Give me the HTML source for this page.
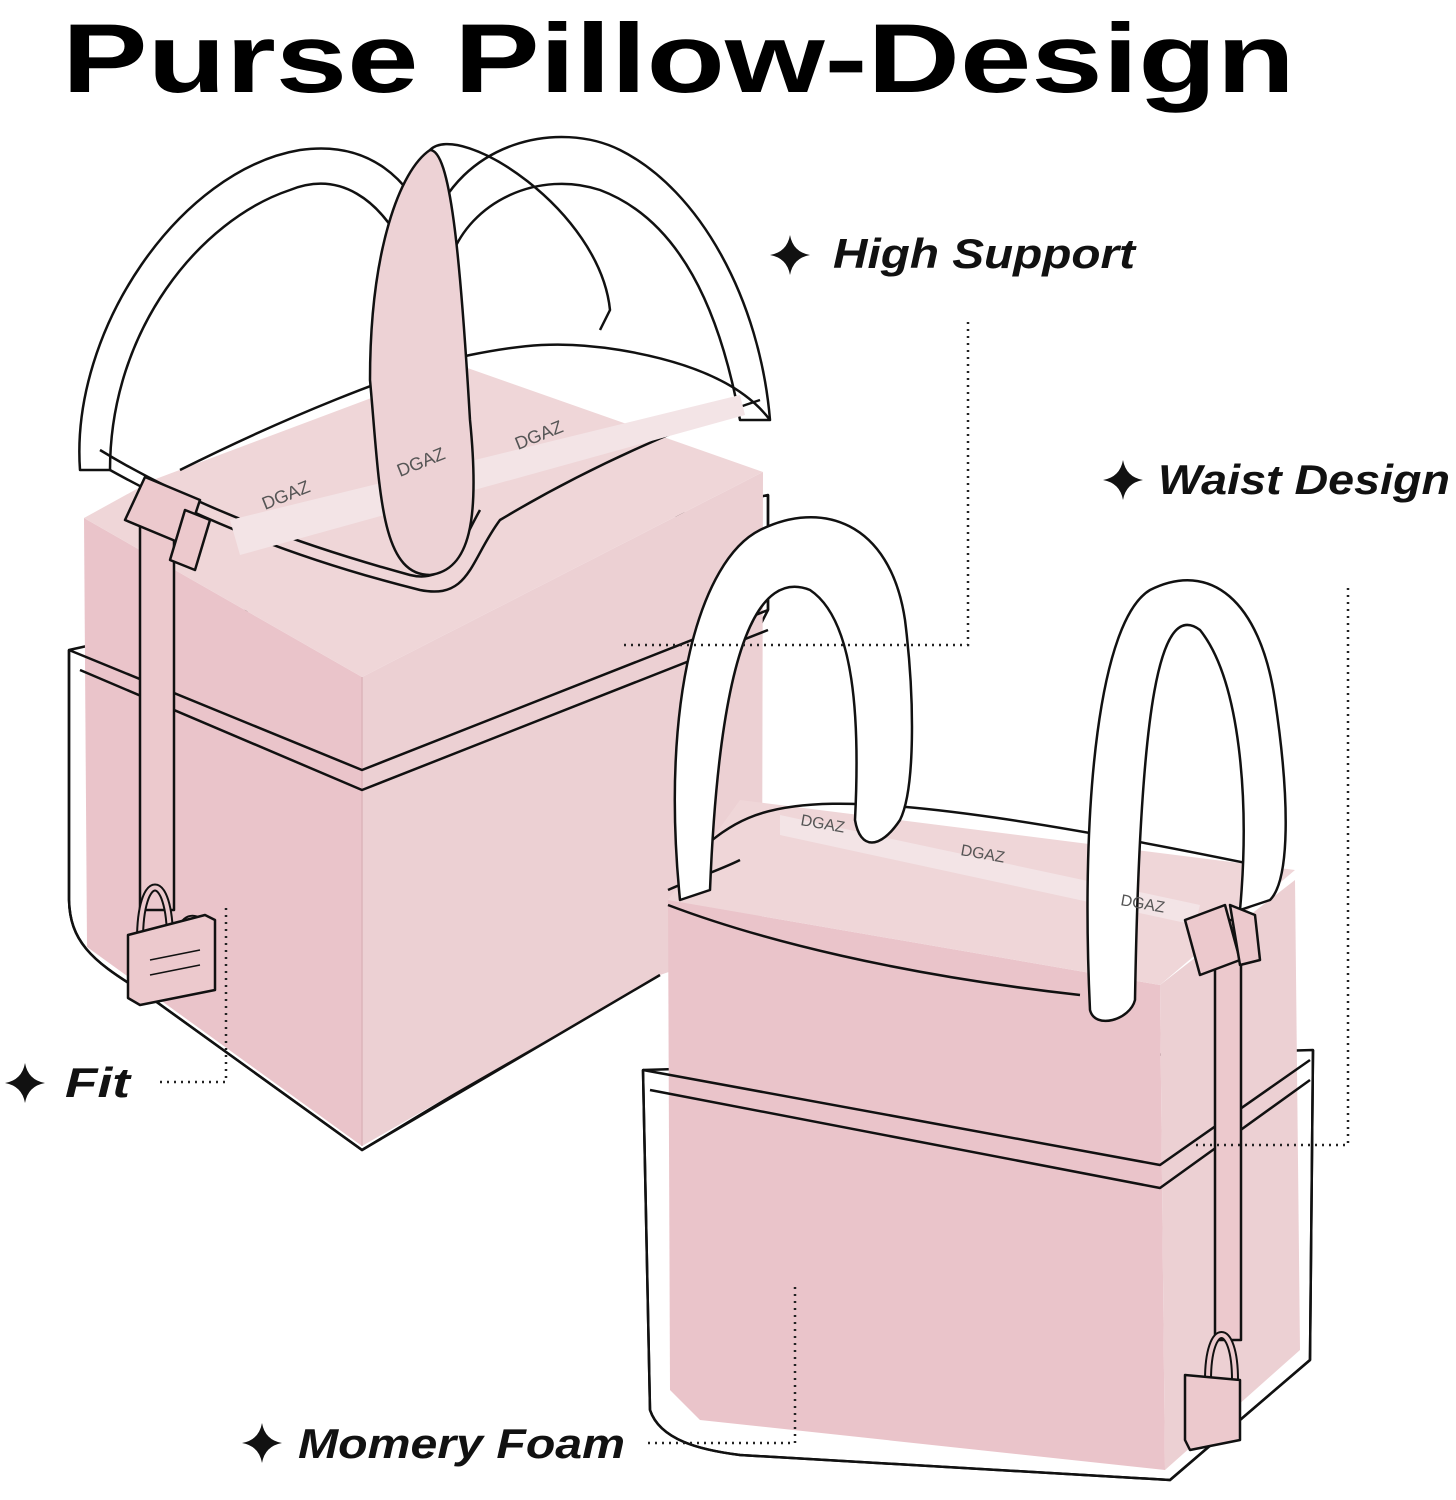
<!DOCTYPE html>
<html><head><meta charset="utf-8"><style>
html,body{margin:0;padding:0;background:#fff}
svg{display:block}
</style></head><body>
<svg width="1456" height="1500" viewBox="0 0 1456 1500" xmlns="http://www.w3.org/2000/svg" font-family="Liberation Sans, sans-serif">
<text x="62" y="92" font-size="98" font-weight="bold" textLength="1233" lengthAdjust="spacingAndGlyphs">Purse Pillow-Design</text>

<!-- LEFT BAG -->
<g stroke="#111" stroke-width="2.5" stroke-linejoin="round">
 <path d="M80 470 C70 330 180 170 300 150 C370 140 410 180 430 230 L405 250 C380 200 340 170 290 190 C200 220 110 330 110 470 Z" fill="#fff"/>
 <path d="M430 230 C460 140 560 120 620 150 C700 190 760 300 770 420 L740 420 C720 310 680 220 600 190 C540 170 470 200 450 260 Z" fill="#fff"/>
 <path d="M69 650 L69 900 C70 940 90 960 140 990 L362 1150 L660 970 L660 820 L768 610 L768 495 Z" fill="#fff"/>
 <path d="M84 518 L362 677 L362 1146 L87 947 Z" fill="#eac4ca" stroke="none"/>
 <path d="M362 677 L763 472 L762 940 L660 975 L362 1146 Z" fill="#ecd0d3" stroke="none"/>
 <path d="M84 518 L153 480 L459 365 L763 472 L362 677 Z" fill="#efd6d8" stroke="none"/>
 <line x1="362" y1="677" x2="362" y2="1146" stroke="#dcb4b9" stroke-width="1.5"/>
 <path d="M69 650 L362 770 L768 610" fill="none"/>
 <path d="M80 670 L362 790 L768 630" fill="none"/>
 <path d="M69 650 L69 900 C70 940 90 960 140 990 L362 1150 L660 975" fill="none"/>
 <path d="M768 610 L768 495" fill="none"/>
 <path d="M110 470 C200 520 300 560 420 590 C470 600 470 560 500 520 C600 460 700 420 760 400" fill="none"/>
 <path d="M100 450 C190 505 300 545 410 575 C450 585 460 545 480 510" fill="none"/>
 <path d="M180 470 C280 420 400 370 470 355 C520 345 560 340 620 350 C680 360 740 380 770 420" fill="none"/>
 <path d="M230 520 L740 395 L745 415 L240 555 Z" fill="#f3e4e6" stroke="none"/>
 <path d="M370 380 C370 250 400 170 430 150 C450 150 460 250 470 420 C480 520 470 570 430 575 C380 575 380 490 370 380 Z" fill="#edd2d5"/>
 <path d="M430 150 C460 120 600 210 610 310 L600 330" fill="none"/>
 <rect x="140" y="490" width="34" height="420" fill="#ecc9cd"/>
 <path d="M125 520 L145 477 L200 500 L185 545 Z" fill="#ecc9cd"/>
 <path d="M185 510 L210 520 L195 570 L170 560 Z" fill="#ecc9cd"/>
 <path d="M140 940 C140 870 170 870 170 940" fill="none" stroke-width="8"/>
 <path d="M140 940 C140 870 170 870 170 940" fill="none" stroke="#ecc9cd" stroke-width="4"/>
 <path d="M175 960 C175 905 210 905 210 960" fill="none" stroke-width="8"/>
 <path d="M175 960 C175 905 210 905 210 960" fill="none" stroke="#ecc9cd" stroke-width="4"/>
 <path d="M128 935 L205 915 L215 920 L215 990 L140 1005 L128 998 Z" fill="#ecc9cd"/>
 <path d="M150 960 L200 950 M150 975 L200 965" fill="none" stroke-width="1.5"/>
</g>
<g font-family="Liberation Sans, sans-serif" font-size="18" fill="#555">
 <text transform="translate(265 510) rotate(-22)">DGAZ</text>
 <text transform="translate(400 477) rotate(-22)">DGAZ</text>
 <text transform="translate(518 450) rotate(-22)">DGAZ</text>
</g>

<!-- RIGHT BAG -->
<g stroke="#111" stroke-width="2.5" stroke-linejoin="round">
 <path d="M643 1070 L650 1410 C660 1440 700 1450 740 1455 L1170 1480 L1310 1360 L1313 1050 Z" fill="#fff"/>
 <path d="M668 900 L1160 985 L1165 1470 L700 1420 L670 1390 Z" fill="#eac4ca" stroke="none"/>
 <path d="M1160 985 L1295 880 L1300 1350 L1165 1470 Z" fill="#ecd0d3" stroke="none"/>
 <path d="M668 900 L740 800 L1295 870 L1160 985 Z" fill="#efd6d8" stroke="none"/>
 <path d="M780 815 L1200 905 L1195 925 L780 835 Z" fill="#f3e4e6" stroke="none"/>
 <path d="M643 1070 L1160 1165 L1310 1060 M650 1090 L1160 1188 L1310 1080" fill="none"/>
 <path d="M643 1070 L650 1410 C660 1440 700 1450 740 1455 L1170 1480 L1310 1360 L1313 1050" fill="none"/>
 <path d="M668 890 C690 880 720 870 740 860 M668 905 C760 940 900 975 1080 995" fill="none"/>
 <path d="M700 850 C760 800 800 770 1280 870" fill="none"/>
 <path d="M680 900 C660 700 700 560 760 530 C820 500 890 520 905 620 C915 700 915 790 900 820 C880 850 860 850 855 820 C860 720 855 620 810 590 C760 570 720 640 710 890 Z" fill="#fff"/>
 <path d="M1090 1010 C1080 800 1100 620 1150 590 C1210 560 1260 600 1275 700 C1290 800 1290 880 1270 900 L1240 910 C1250 800 1240 680 1200 630 C1160 600 1140 700 1135 1000 C1130 1020 1095 1030 1090 1010 Z" fill="#fff"/>
 <rect x="1215" y="920" width="26" height="420" fill="#ecc9cd"/>
 <path d="M1185 920 L1225 905 L1240 960 L1200 975 Z" fill="#ecc9cd"/>
 <path d="M1230 905 L1255 915 L1260 960 L1240 965 Z" fill="#ecc9cd"/>
 <path d="M1208 1380 C1208 1320 1235 1320 1235 1380" fill="none" stroke-width="8"/>
 <path d="M1208 1380 C1208 1320 1235 1320 1235 1380" fill="none" stroke="#ecc9cd" stroke-width="4"/>
 <path d="M1185 1375 L1240 1380 L1240 1440 L1190 1450 L1185 1440 Z" fill="#ecc9cd"/>
</g>
<g font-family="Liberation Sans, sans-serif" font-size="16" fill="#555">
 <text transform="translate(800 825) rotate(10)">DGAZ</text>
 <text transform="translate(960 855) rotate(10)">DGAZ</text>
 <text transform="translate(1120 905) rotate(10)">DGAZ</text>
</g>

<g stroke="#222" stroke-width="2.5" stroke-dasharray="2 5" fill="none">
 <path d="M968 322 L968 645 L620 645"/>
 <path d="M1348 588 L1348 1145 L1192 1145"/>
 <path d="M226 908 L226 1082 L155 1082"/>
 <path d="M795 1287 L795 1443 L645 1443"/>
</g>

<g fill="#111" font-weight="bold" font-style="italic" font-size="42">
 <path d="M790 235 Q793 252 810 255 Q793 258 790 275 Q787 258 770 255 Q787 252 790 235 Z"/>
 <text x="833" y="268" textLength="302" lengthAdjust="spacingAndGlyphs">High Support</text>
 <path d="M1123 460 Q1126 477 1143 480 Q1126 483 1123 500 Q1120 483 1103 480 Q1120 477 1123 460 Z"/>
 <text x="1158" y="494" textLength="292" lengthAdjust="spacingAndGlyphs">Waist Design</text>
 <path d="M25 1063 Q28 1080 45 1083 Q28 1086 25 1103 Q22 1086 5 1083 Q22 1080 25 1063 Z"/>
 <text x="65" y="1097" textLength="65" lengthAdjust="spacingAndGlyphs">Fit</text>
 <path d="M262 1423 Q265 1440 282 1443 Q265 1446 262 1463 Q259 1446 242 1443 Q259 1440 262 1423 Z"/>
 <text x="298" y="1458" textLength="327" lengthAdjust="spacingAndGlyphs">Momery Foam</text>
</g>
</svg>
</body></html>
